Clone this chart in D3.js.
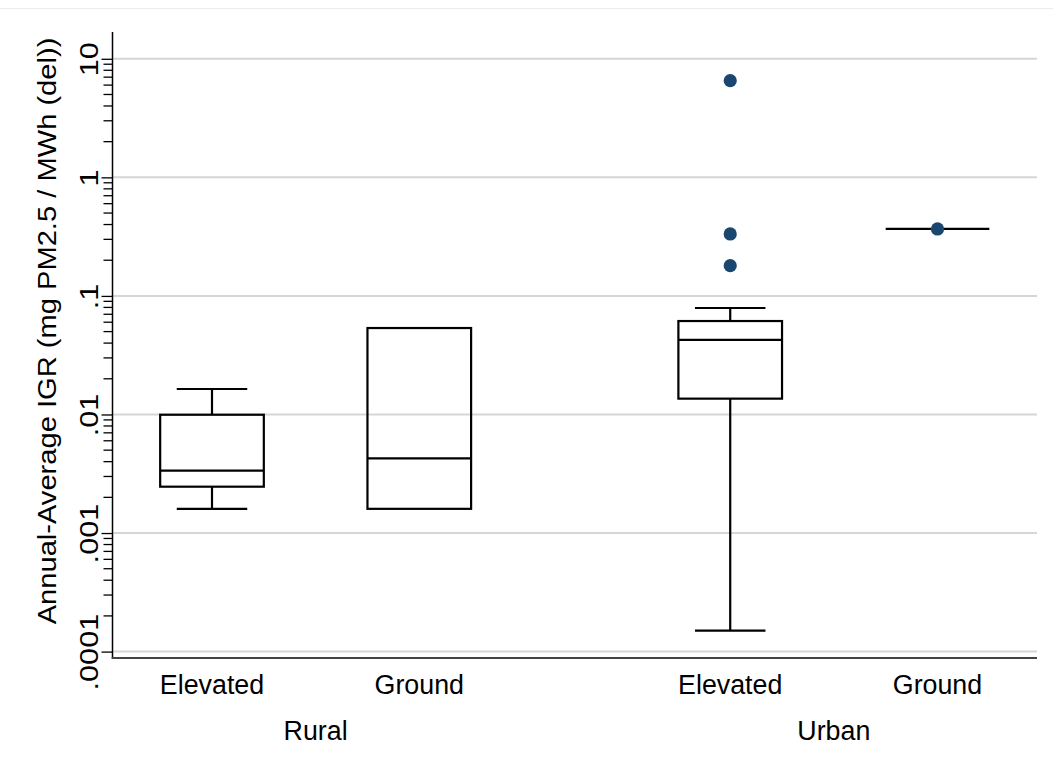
<!DOCTYPE html>
<html><head><meta charset="utf-8">
<script src="https://cdn.jsdelivr.net/npm/d3@7/dist/d3.min.js"></script>
<style>body{margin:0;background:#fff}svg{display:block}text{font-family:"Liberation Sans",Arial,sans-serif;fill:#000}</style>
</head><body><svg id="c" width="1053" height="769"></svg>
<script>
// ---- data ----
const groups = ["Rural", "Rural", "Urban", "Urban"];
const categories = ["Elevated", "Ground", "Elevated", "Ground"];
const positions = [0, 1, 2.5, 3.5];
const lowerWhisker = [0.0016, 0.0016, 0.00015, 0.367];
const q1 = [0.00246, 0.0016, 0.0136, 0.367];
const median = [0.00336, 0.00427, 0.0425, 0.367];
const q3 = [0.00995, 0.0536, 0.0614, 0.367];
const upperWhisker = [0.0164, 0.0536, 0.0791, 0.367];
const outliers = [[], [], [6.54, 0.333, 0.18], [0.367]];
const groupLabels = ["Rural", "Urban"];
const groupCenters = [0.5, 3.0];
const yTicks = [0.0001, 0.001, 0.01, 0.1, 1, 10];
const yTickLabels = [".0001", ".001", ".01", ".1", "1", "10"];
const yTitle = "Annual-Average IGR (mg PM2.5 / MWh (del))";

// ---- layout ----
const svg = d3.select("#c");
const L = 112.5, R = 1037, T = 32, B = 658;
const x = d3.scaleLinear().domain([-0.48, 3.98]).range([L, R]);
const y = d3.scaleLog().domain([Math.pow(10, -4.054), Math.pow(10, 1.226)]).range([B, T]);
const unit = x(1) - x(0);
const boxW = unit * 0.5, capW = unit * 0.34;
const tickStretch = 1.18, titleStretch = 1.12;

// top faint border
svg.append("line").attr("x1", 0).attr("x2", 1053).attr("y1", 8.5).attr("y2", 8.5)
  .attr("stroke", "#ececec").attr("stroke-width", 1);

// gridlines
svg.append("g").selectAll("line").data(yTicks).join("line")
  .attr("x1", L).attr("x2", R).attr("y1", d => y(d)).attr("y2", d => y(d))
  .attr("stroke", "#d6d6d6").attr("stroke-width", 2);

// minor ticks
const minor = [];
for (let e = -4; e < 1; e++) for (let m = 2; m <= 9; m++) minor.push(m * Math.pow(10, e));
for (let m = 2; m <= 9; m++) if (m * 10 <= y.domain()[1]) minor.push(m * 10);
svg.append("g").selectAll("line").data(minor).join("line")
  .attr("x1", L - 9).attr("x2", L).attr("y1", d => y(d)).attr("y2", d => y(d))
  .attr("stroke", "#000").attr("stroke-width", 1.3);

// y axis
const yAxis = d3.axisLeft(y).tickValues(yTicks).tickFormat((d, i) => yTickLabels[i]).tickSize(11).tickPadding(4);
const gy = svg.append("g").attr("transform", `translate(${L},0)`).call(yAxis);
gy.select(".domain").remove();
gy.selectAll(".tick line").attr("stroke", "#000").attr("stroke-width", 1.3);
gy.selectAll(".tick text")
  .attr("x", 0).attr("dy", null).attr("y", 0)
  .attr("transform", `translate(-15,0) rotate(-90) scale(${tickStretch},1)`)
  .attr("text-anchor", "middle").attr("font-size", 26)
  .attr("font-family", "Liberation Sans, Arial, sans-serif").attr("fill", "#000");
svg.append("line").attr("x1", L).attr("x2", L).attr("y1", T).attr("y2", B + 1)
  .attr("stroke", "#000").attr("stroke-width", 1.5);

// x axis line
svg.append("line").attr("x1", L - 0.75).attr("x2", R).attr("y1", B).attr("y2", B)
  .attr("stroke", "#444").attr("stroke-width", 2);

// boxes
const data = categories.map((c, i) => ({c, p: positions[i], lw: lowerWhisker[i], q1: q1[i], med: median[i], q3: q3[i], uw: upperWhisker[i], out: outliers[i]}));
const g = svg.append("g");
data.forEach(d => {
  const cx = x(d.p);
  const st = {stroke: "#000", "stroke-width": 2.2};
  const line = (x1, y1, x2, y2) => { const l = g.append("line").attr("x1", x1).attr("y1", y1).attr("x2", x2).attr("y2", y2); for (const k in st) l.attr(k, st[k]); };
  if (d.uw > d.q3) { line(cx, y(d.q3), cx, y(d.uw)); line(cx - capW / 2, y(d.uw), cx + capW / 2, y(d.uw)); }
  if (d.lw < d.q1) { line(cx, y(d.q1), cx, y(d.lw)); line(cx - capW / 2, y(d.lw), cx + capW / 2, y(d.lw)); }
  if (d.q3 > d.q1) {
    g.append("rect").attr("x", cx - boxW / 2).attr("y", y(d.q3)).attr("width", boxW).attr("height", y(d.q1) - y(d.q3))
      .attr("fill", "none").attr("stroke", "#000").attr("stroke-width", 2.2);
  }
  line(cx - boxW / 2, y(d.med), cx + boxW / 2, y(d.med));
  d.out.forEach(o => {
    g.append("circle").attr("cx", cx).attr("cy", y(o)).attr("r", 6.6).attr("fill", "#1a476f");
  });
});

// category labels
svg.append("g").selectAll("text").data(data).join("text")
  .attr("x", d => x(d.p)).attr("y", 694).attr("text-anchor", "middle").attr("font-size", 26.8)
  .text(d => d.c);
svg.append("g").selectAll("text").data(groupLabels).join("text")
  .attr("x", (d, i) => x(groupCenters[i])).attr("y", 740).attr("text-anchor", "middle").attr("font-size", 26.8)
  .text(d => d);

// y title
svg.append("text").attr("transform", `translate(56,331) rotate(-90) scale(${titleStretch},1)`)
  .attr("text-anchor", "middle").attr("font-size", 26).text(yTitle);
</script></body></html>
